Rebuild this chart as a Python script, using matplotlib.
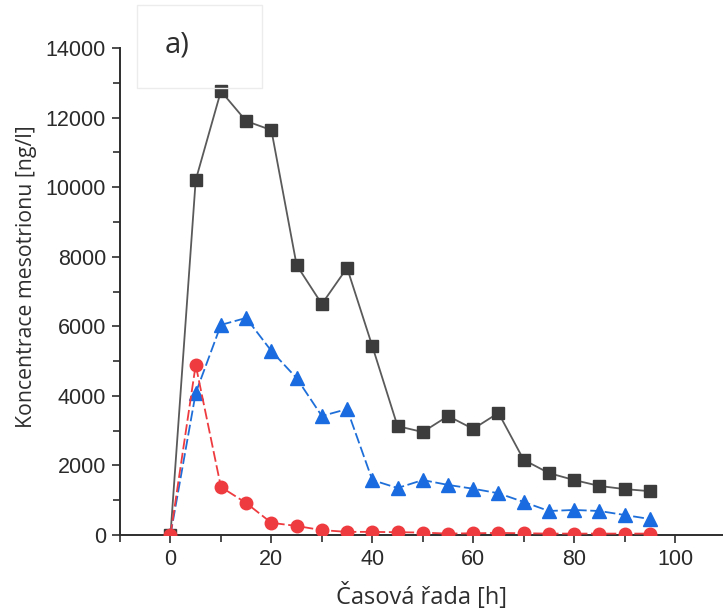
import matplotlib.pyplot as plt
from matplotlib.ticker import MultipleLocator
from matplotlib.patches import Rectangle

# time points [h]
hours = [0, 5, 10, 15, 20, 25, 30, 35, 40, 45, 50, 55, 60, 65, 70, 75, 80, 85, 90, 95]

# mesotrione concentration [ng/l]
black_sq = [0, 10200, 12760, 11900, 11640, 7760, 6640, 7680, 5430, 3130,
            2960, 3420, 3050, 3510, 2160, 1780, 1580, 1410, 1320, 1260]
blue_tri = [0, 4080, 6040, 6240, 5290, 4510, 3420, 3620, 1580, 1350,
            1580, 1440, 1330, 1200, 950, 690, 720, 690, 575, 460]
red_circ = [0, 4890, 1380, 920, 350, 260, 140, 90, 90, 80,
            70, 40, 50, 60, 50, 40, 40, 40, 40, 40]

tick_font = ['Liberation Sans', 'DejaVu Sans']
label_font = ['Open Sans', 'DejaVu Sans']

fig = plt.figure(figsize=(7.23, 6.16), dpi=100)
ax = fig.add_axes([120 / 723, 81 / 616, 1 - 120 / 723, 487 / 616])

ax.plot(hours, black_sq, color='#5a5a5a', lw=1.3, marker='s', ms=8.5,
        mfc='#3c3c3c', mec='#3c3c3c', zorder=3)
ax.plot(hours, blue_tri, color='#1f6fd9', lw=1.3, ls=(0, (6, 2)), marker='^', ms=10,
        mfc='#1a6be0', mec='#1a6be0', zorder=4)
ax.plot(hours, red_circ, color='#ee3b3f', lw=1.3, ls=(0, (6, 2)), marker='o', ms=9,
        mfc='#ee3b3f', mec='#ee3b3f', zorder=5)

ax.set_xlim(-10, 109.5)
ax.set_ylim(0, 14000)
ax.xaxis.set_major_locator(MultipleLocator(20))
ax.xaxis.set_minor_locator(MultipleLocator(10))
ax.yaxis.set_major_locator(MultipleLocator(2000))
ax.yaxis.set_minor_locator(MultipleLocator(1000))

for side in ['top', 'right']:
    ax.spines[side].set_visible(False)
for side in ['left', 'bottom']:
    ax.spines[side].set_color('#2e2e2e')
    ax.spines[side].set_linewidth(1.4)
ax.spines['bottom'].set_zorder(2)

ax.tick_params(which='both', direction='out', color='#2e2e2e', width=1.2)
ax.tick_params(which='major', length=6, labelsize=15.5, labelcolor='#2a2a2a', pad=4)
ax.tick_params(which='minor', length=5)
for lab in ax.get_xticklabels() + ax.get_yticklabels():
    lab.set_family(tick_font)

ax.set_xlabel('Časová řada [h]', fontsize=17, family=label_font, color='#2e2e2e')
ax.set_ylabel('Koncentrace mesotrionu [ng/l]', fontsize=15.3, family=label_font, color='#2e2e2e')
ax.xaxis.set_label_coords(0.5, -(583 - 535) / 487)
ax.yaxis.set_label_coords(-(120 - 37) / 603, (535 - 277) / 487)

# panel label box
fig.patches.append(Rectangle((137 / 723, 1 - 88 / 616), 125 / 723, 83 / 616,
                             transform=fig.transFigure, fill=False,
                             edgecolor='#ececec', lw=1))
fig.text(177 / 723, 1 - 45 / 616, 'a)', fontsize=21, family=label_font,
         color='#2e2e2e', ha='center', va='center')

fig.savefig('out.png', dpi=100)
